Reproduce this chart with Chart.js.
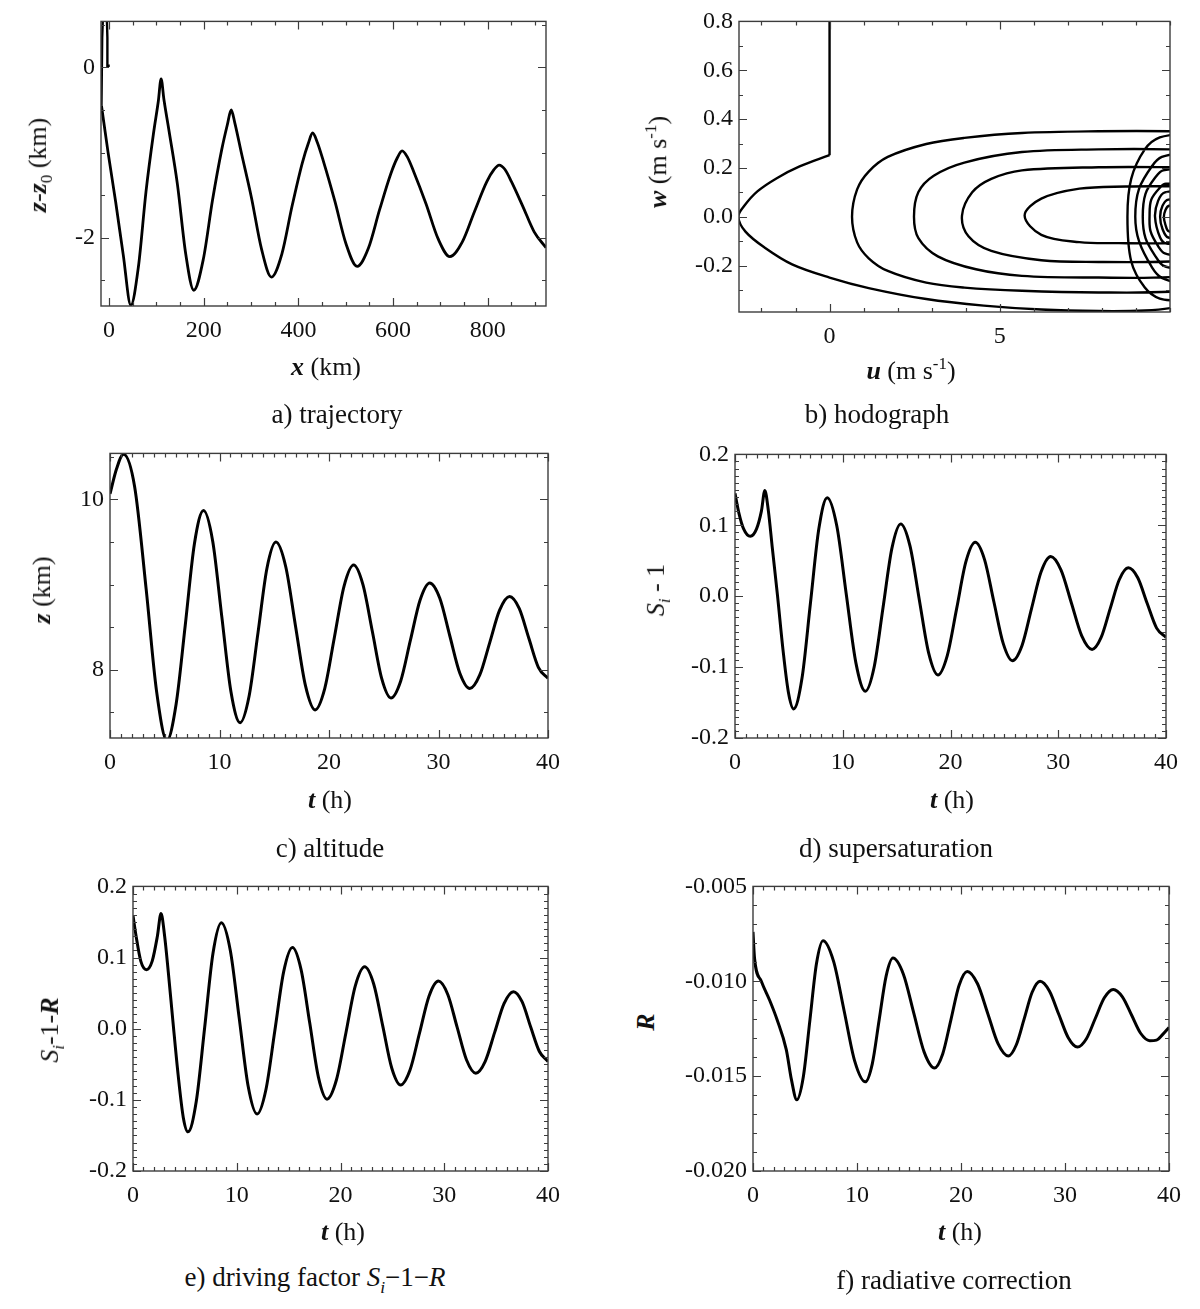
<!DOCTYPE html>
<html>
<head>
<meta charset="utf-8">
<script src="https://cdn.jsdelivr.net/npm/chart.js@4.4.1/dist/chart.umd.min.js"></script>
<style>
  body { margin: 0; background: #fff; }
  #page { position: relative; width: 1200px; height: 1309px; font-family: 'Liberation Serif', 'Times New Roman', serif; color: #111; overflow: hidden; }
  canvas { position: absolute; }
  .t { position: absolute; font-size: 26px; white-space: nowrap; transform: translate(-50%, -50%); }
  .cap { font-size: 27px; }
  .v { transform: translate(-50%, -50%) rotate(-90deg); }
  .bi { font-weight: bold; font-style: italic; }
  .i { font-style: italic; }
  sub, sup { font-size: 65%; }
</style>
</head>
<body>
<div id="page">
  <canvas id="chA"></canvas>
  <canvas id="chB"></canvas>
  <canvas id="chC"></canvas>
  <canvas id="chD"></canvas>
  <canvas id="chE"></canvas>
  <canvas id="chF"></canvas>

  <div class="t v" style="left:40px;top:165px"><span class="bi">z</span>-<span class="bi">z</span><sub>0</sub> (km)</div>
  <div class="t" style="left:326px;top:367px"><span class="bi">x</span> (km)</div>
  <div class="t cap" style="left:337px;top:414px">a) trajectory</div>

  <div class="t v" style="left:657px;top:162px"><span class="bi">w</span> (m s<sup>-1</sup>)</div>
  <div class="t" style="left:911px;top:370px"><span class="bi">u</span> (m s<sup>-1</sup>)</div>
  <div class="t cap" style="left:877px;top:414px">b) hodograph</div>

  <div class="t v" style="left:42px;top:590px"><span class="bi">z</span> (km)</div>
  <div class="t" style="left:330px;top:800px"><span class="bi">t</span> (h)</div>
  <div class="t cap" style="left:330px;top:848px">c) altitude</div>

  <div class="t v" style="left:658px;top:590px"><span class="i">S<sub>i</sub></span> - 1</div>
  <div class="t" style="left:952px;top:800px"><span class="bi">t</span> (h)</div>
  <div class="t cap" style="left:896px;top:848px">d) supersaturation</div>

  <div class="t v" style="left:52px;top:1030px"><span class="i">S<sub>i</sub></span>-1-<span class="bi">R</span></div>
  <div class="t" style="left:343px;top:1232px"><span class="bi">t</span> (h)</div>
  <div class="t cap" style="left:315px;top:1280px">e) driving factor <span class="i">S<sub>i</sub></span>−1−<span class="i">R</span></div>

  <div class="t v" style="left:646px;top:1022px"><span class="bi">R</span></div>
  <div class="t" style="left:960px;top:1232px"><span class="bi">t</span> (h)</div>
  <div class="t cap" style="left:954px;top:1280px">f) radiative correction</div>
</div>

<script>
// a) trajectory: x (km), z - z0 (km)
const trajSpikeX = [1.5, -3, -3.5, -5, -12.5, -14.5, -16];
const trajSpikeZ = [0.02, 0.02, 0.35, 0.65, 0.65, 0.35, -0.45];
const trajX = [-16, -2, 14, 30, 46, 62, 78, 94, 104, 110, 116, 127, 144.5, 162, 179,
  199, 218.5, 238, 250, 258, 266, 279, 300.5, 322, 343, 365, 386.5, 408, 421, 430,
  440, 453.5, 477, 500.5, 524, 548, 571.5, 595, 609, 619, 630, 644, 669.5, 695, 720,
  746, 772, 798, 813, 824, 836, 850, 874, 898, 923];
const trajZ = [-0.45, -1.0, -1.58, -2.2, -2.79, -2.34, -1.46, -0.77, -0.40, -0.135, -0.38, -0.755, -1.375, -2.19, -2.615,
  -2.255, -1.56, -0.965, -0.67, -0.5, -0.66, -0.99, -1.52, -2.13, -2.46, -2.19, -1.63, -1.125, -0.89, -0.77,
  -0.88, -1.114, -1.57, -2.07, -2.335, -2.12, -1.67, -1.25, -1.06, -0.98, -1.05, -1.23, -1.6, -2.01, -2.22,
  -2.05, -1.69, -1.34, -1.2, -1.146, -1.195, -1.34, -1.63, -1.93, -2.115];

// b) hodograph: u, w (m/s)
const hodoStartU = [0, 0];
const hodoStartW = [0.9, 0.252];
const hodoU = [0, -0.88, -1.55, -2.12, -2.51, -2.68, -2.47, -1.89, -1.10, 0, 1.15, 2.84, 4.53, 6.22, 7.9, 9.26, 10.05, 10.6,
  9.7, 9.26, 8.86, 8.75, 8.86, 9.26, 9.7, 10.6,
  10.05, 7.9, 5.65, 3.96, 2.84, 1.71, 1.15, 0.81, 0.66, 0.81, 1.15, 1.71, 2.84, 3.96, 5.65, 7.9, 10.05, 10.6,
  9.76, 9.48, 9.09, 8.98, 9.09, 9.48, 9.76, 10.6,
  10.05, 7.9, 5.65, 3.96, 3.06, 2.61, 2.48, 2.61, 3.18, 4.3, 5.65, 7.9, 10.05, 10.6,
  9.8, 9.59, 9.28, 9.2, 9.28, 9.59, 9.8, 10.6,
  10.05, 7.9, 5.65, 4.75, 4.19, 3.89, 4.08, 4.75, 6.22, 7.9, 10.05, 10.6,
  9.85, 9.65, 9.43, 9.4, 9.45, 9.71, 9.88, 10.6,
  10.05, 8.7, 7.34, 6.22, 5.73, 6.22, 7.34, 8.5, 10.05, 10.6,
  9.9, 9.71, 9.56, 9.65, 9.85, 10.6, 10.6,
  9.95, 9.78, 9.71, 9.78, 9.95, 10.6, 10.6,
  9.97, 9.86, 9.82, 9.86, 9.97, 10.6];
const hodoW = [0.252, 0.206, 0.158, 0.104, 0.044, 0.0, -0.061, -0.128, -0.195, -0.249, -0.292, -0.337, -0.364, -0.38, -0.386, -0.384, -0.373, -0.35,
  -0.335, -0.29, -0.182, 0, 0.155, 0.276, 0.325, 0.345,
  0.35, 0.35, 0.343, 0.323, 0.298, 0.245, 0.185, 0.112, 0, -0.105, -0.17, -0.222, -0.27, -0.29, -0.303, -0.31, -0.307, -0.29,
  -0.25, -0.209, -0.1, 0, 0.114, 0.209, 0.245, 0.27,
  0.276, 0.276, 0.265, 0.222, 0.168, 0.101, 0, -0.0875, -0.162, -0.215, -0.242, -0.249, -0.247, -0.23,
  -0.2, -0.165, -0.0875, 0, 0.094, 0.165, 0.19, 0.2,
  0.203, 0.203, 0.19, 0.155, 0.1, 0.005, -0.08, -0.14, -0.178, -0.185, -0.183, -0.17,
  -0.15, -0.12, -0.06, 0.005, 0.07, 0.12, 0.135, 0.125,
  0.125, 0.124, 0.115, 0.074, 0.005, -0.074, -0.104, -0.108, -0.108, -0.1,
  -0.11, -0.085, 0, 0.065, 0.1, 0.09, -0.08,
  -0.085, -0.05, 0, 0.045, 0.07, 0.06, -0.055,
  -0.06, -0.03, 0, 0.025, 0.045, 0.04];

// c) altitude: t (h), z (km)
const altT = [0, 0.6, 1.23, 2.25, 3.3, 4.25, 5.2, 6.04, 6.87, 7.71, 8.54, 9.38, 10.21, 11.05, 11.88,
  12.7, 13.52, 14.33, 15.15, 16.05, 16.94, 17.84, 18.73, 19.61, 20.49, 21.37, 22.25, 23.1, 23.96, 24.81, 25.66,
  26.55, 27.43, 28.32, 29.2, 30.12, 31.03, 31.95, 32.86, 33.77, 34.68, 35.58, 36.49, 37.37, 38.25, 39.12, 40];
const altZ = [10.065, 10.36, 10.53, 10.15, 8.95, 7.75, 7.17, 7.6, 8.52, 9.48, 9.87, 9.51, 8.625, 7.74, 7.38,
  7.69, 8.44, 9.19, 9.50, 9.21, 8.515, 7.82, 7.53, 7.78, 8.38, 8.98, 9.23, 9.0, 8.45, 7.90, 7.67,
  7.87, 8.345, 8.82, 9.02, 8.84, 8.40, 7.96, 7.78, 7.94, 8.32, 8.70, 8.86, 8.72, 8.37, 8.03, 7.90];

// d) supersaturation: t (h), Si - 1
const supT = [0, 0.35, 0.8, 1.42, 2.0, 2.45, 2.77, 3.1, 3.45, 3.95, 4.45, 4.95, 5.44, 6.22, 7.0, 7.78, 8.56,
  9.45, 10.33, 11.22, 12.1, 12.92, 13.74, 14.56, 15.38, 16.24, 17.1, 17.97, 18.83, 19.7, 20.57, 21.43, 22.3,
  23.16, 24.02, 24.89, 25.75, 26.64, 27.52, 28.41, 29.3, 30.26, 31.22, 32.18, 33.14, 33.98, 34.82, 35.66, 36.5,
  37.38, 38.25, 39.13, 40];
const supV = [0.145, 0.118, 0.095, 0.0845, 0.095, 0.12, 0.149, 0.12, 0.07, 0.0, -0.075, -0.135, -0.159, -0.1155, -0.01, 0.095, 0.139,
  0.099, 0.0025, -0.094, -0.134, -0.0995, -0.016, 0.0675, 0.102, 0.071, -0.0045, -0.080, -0.111, -0.0837, -0.0175, 0.0487, 0.076,
  0.0516, -0.0075, -0.0666, -0.091, -0.0695, -0.0175, 0.0345, 0.056, 0.0369, -0.0095, -0.0559, -0.075, -0.0582, -0.0175, 0.0232, 0.040,
  0.026, -0.01, -0.045, -0.058];

// e) driving factor: t (h), Si - 1 - R
const drvT = [0, 0.3, 0.75, 1.3, 1.85, 2.35, 2.7, 3.05, 3.4, 3.85, 4.35, 4.85, 5.3, 6.1, 6.91, 7.71, 8.52,
  9.38, 10.24, 11.1, 11.96, 12.81, 13.67, 14.52, 15.37, 16.2, 17.04, 17.87, 18.7, 19.61, 20.52, 21.42, 22.33,
  23.2, 24.07, 24.93, 25.8, 26.71, 27.62, 28.53, 29.44, 30.34, 31.24, 32.14, 33.04, 33.95, 34.86, 35.76, 36.67,
  37.5, 38.34, 39.17, 40];
const drvV = [0.159, 0.13, 0.095, 0.083, 0.095, 0.13, 0.162, 0.13, 0.08, 0.01, -0.065, -0.125, -0.145, -0.102, 0.002, 0.106, 0.149,
  0.11, 0.0145, -0.081, -0.12, -0.0858, -0.003, 0.0798, 0.114, 0.083, 0.0075, -0.068, -0.099, -0.0718, -0.006, 0.0598, 0.087,
  0.0628, 0.004, -0.0548, -0.079, -0.0577, -0.006, 0.0457, 0.067, 0.0481, 0.0022, -0.0436, -0.0625, -0.0458, -0.0052, 0.0353, 0.052,
  0.038, 0.002, -0.032, -0.046];

// f) radiative correction: t (h), R
const radT = [0, 0.15, 0.8, 1.6, 2.3, 3.2, 3.7, 4.21, 4.84, 5.47, 6.1, 6.73, 7.75, 8.77, 9.78, 10.8,
  11.47, 12.13, 12.8, 13.46, 14.46, 15.46, 16.45, 17.45, 18.24, 19.03, 19.81, 20.6, 21.59, 22.58, 23.56, 24.55,
  25.31, 26.08, 26.84, 27.6, 28.5, 29.4, 30.3, 31.2, 32.06, 32.92, 33.78, 34.64, 35.52, 36.4, 37.27, 38.15,
  38.8, 39.4, 40];
const radR = [-0.0074, -0.0088, -0.0100, -0.0110, -0.0120, -0.0136, -0.0152, -0.01625, -0.01503, -0.01206, -0.00908, -0.00786, -0.00895, -0.01158, -0.01421, -0.0153,
  -0.01435, -0.01204, -0.00973, -0.00878, -0.00963, -0.01168, -0.01372, -0.01457, -0.01383, -0.01203, -0.01022, -0.00948, -0.01013, -0.01171, -0.01329, -0.01394,
  -0.01336, -0.01197, -0.01058, -0.0100, -0.01051, -0.01174, -0.01296, -0.01347, -0.01303, -0.01195, -0.01087, -0.01043, -0.01082, -0.01178, -0.01274, -0.01313,
  -0.0131, -0.0128, -0.01243];

// tick labels
const trajXTicks = [0, 200, 400, 600, 800];
const trajZTicks = [-2, 0];
const hodoUTicks = [0, 5];
const hodoWTicks = [-0.2, 0, 0.2, 0.4, 0.6, 0.8];
const hourTicks = [0, 10, 20, 30, 40];
const altTicks = [8, 10];
const supTicks = [-0.2, -0.1, 0, 0.1, 0.2];
const radTicks = [-0.020, -0.015, -0.010, -0.005];

const FONT = "'Liberation Serif', 'Times New Roman', serif";

// frame + inward tick marks on all four sides
const frameTicks = {
  id: 'frameTicks',
  afterDatasetsDraw(chart, args, o) {
    const { ctx, chartArea: a } = chart;
    const sx = chart.scales.x, sy = chart.scales.y;
    const steps = (min, max, step) => {
      const out = [];
      for (let k = Math.ceil(min / step - 1e-6); k * step <= max + 1e-9; k++) out.push(k * step);
      return out;
    };
    const isMajor = (list, v, step) => list.some(m => Math.abs(m - v) < step / 10);
    ctx.save();
    ctx.strokeStyle = '#3c3c3c';
    ctx.lineWidth = 1.2;
    ctx.beginPath();
    steps(sx.min, sx.max, o.xMinor).forEach(v => {
      const len = isMajor(o.xMajor, v, o.xMinor) ? 8 : 4;
      const p = Math.round(sx.getPixelForValue(v)) + 0.5;
      ctx.moveTo(p, a.bottom); ctx.lineTo(p, a.bottom - len);
      ctx.moveTo(p, a.top); ctx.lineTo(p, a.top + len);
    });
    steps(sy.min, sy.max, o.yMinor).forEach(v => {
      const len = isMajor(o.yMajor, v, o.yMinor) ? 8 : 4;
      const p = Math.round(sy.getPixelForValue(v)) + 0.5;
      ctx.moveTo(a.left, p); ctx.lineTo(a.left + len, p);
      ctx.moveTo(a.right, p); ctx.lineTo(a.right - len, p);
    });
    ctx.stroke();
    ctx.lineWidth = 1.4;
    ctx.strokeRect(a.left, a.top, a.right - a.left, a.bottom - a.top);
    ctx.restore();
  }
};

const curve = (xs, ys, extra) => Object.assign({
  data: xs.map((x, i) => ({ x, y: ys[i] })),
  showLine: true,
  pointRadius: 0,
  borderColor: '#000',
  borderWidth: 3,
  fill: false,
  clip: 0,
  cubicInterpolationMode: 'monotone'
}, extra || {});

function panel(id, box, o) {
  const padL = 84, padR = 28, padT = 16, padB = 48;
  const cv = document.getElementById(id);
  const w = box[2] - box[0] + padL + padR;
  const h = box[3] - box[1] + padT + padB;
  cv.style.left = (box[0] - padL) + 'px';
  cv.style.top = (box[1] - padT) + 'px';
  cv.style.width = w + 'px';
  cv.style.height = h + 'px';
  cv.width = w;
  cv.height = h;
  const tickFont = { family: FONT, size: 24 };
  new Chart(cv, {
    type: 'scatter',
    data: { datasets: o.sets },
    options: {
      responsive: false,
      animation: false,
      layout: { padding: { left: 0, right: padR, top: padT, bottom: 0 }, autoPadding: false },
      elements: { line: { capBezierPoints: false } },
      plugins: {
        legend: { display: false },
        tooltip: { enabled: false },
        frameTicks: { xMajor: o.xTicks, yMajor: o.yTicks, xMinor: o.xMinor, yMinor: o.yMinor }
      },
      scales: {
        x: {
          type: 'linear', min: o.xMin, max: o.xMax,
          grid: { display: false, drawTicks: false },
          border: { display: false },
          ticks: { font: tickFont, color: '#111', padding: 10, maxRotation: 0, callback: v => o.xFmt(v) },
          afterBuildTicks: s => { s.ticks = o.xTicks.map(v => ({ value: v })); },
          afterFit: s => { s.height = padB; }
        },
        y: {
          type: 'linear', min: o.yMin, max: o.yMax,
          grid: { display: false, drawTicks: false },
          border: { display: false },
          ticks: { font: tickFont, color: '#111', padding: 6, callback: v => o.yFmt(v) },
          afterBuildTicks: s => { s.ticks = o.yTicks.map(v => ({ value: v })); },
          afterFit: s => { s.width = padL; }
        }
      }
    },
    plugins: [frameTicks]
  });
}

const intFmt = v => String(Math.round(v));
const f1 = v => v.toFixed(1);
const f3 = v => v.toFixed(3);

panel('chA', [101, 17, 546, 306], {
  xMin: -17, xMax: 923, yMin: -2.8, yMax: 0.54,
  xTicks: trajXTicks, yTicks: trajZTicks, xMinor: 50, yMinor: 0.5,
  xFmt: intFmt, yFmt: intFmt,
  sets: [
    curve(trajSpikeX, trajSpikeZ, { cubicInterpolationMode: 'default', tension: 0, borderWidth: 2.4 }),
    curve(trajX, trajZ, { borderWidth: 2.8 })
  ]
});

panel('chB', [739, 17, 1170, 312], {
  xMin: -2.66, xMax: 10.0, yMin: -0.39, yMax: 0.8,
  xTicks: hodoUTicks, yTicks: hodoWTicks, xMinor: 1, yMinor: 0.1,
  xFmt: intFmt, yFmt: f1,
  sets: [
    curve(hodoStartU, hodoStartW, { cubicInterpolationMode: 'default', tension: 0, borderWidth: 2.4 }),
    curve(hodoU, hodoW, { cubicInterpolationMode: 'default', tension: 0.35, borderWidth: 2.4 })
  ]
});

panel('chC', [110, 449, 548, 738], {
  xMin: 0, xMax: 40, yMin: 7.2, yMax: 10.54,
  xTicks: hourTicks, yTicks: altTicks, xMinor: 1, yMinor: 0.5,
  xFmt: intFmt, yFmt: intFmt,
  sets: [curve(altT, altZ)]
});

panel('chD', [735, 450, 1166, 738], {
  xMin: 0, xMax: 40, yMin: -0.2, yMax: 0.2,
  xTicks: hourTicks, yTicks: supTicks, xMinor: 1, yMinor: 0.01,
  xFmt: intFmt, yFmt: f1,
  sets: [curve(supT, supV)]
});

panel('chE', [133, 882, 548, 1171], {
  xMin: 0, xMax: 40, yMin: -0.2, yMax: 0.2,
  xTicks: hourTicks, yTicks: supTicks, xMinor: 1, yMinor: 0.01,
  xFmt: intFmt, yFmt: f1,
  sets: [curve(drvT, drvV)]
});

panel('chF', [753, 882, 1169, 1171], {
  xMin: 0, xMax: 40, yMin: -0.020, yMax: -0.005,
  xTicks: hourTicks, yTicks: radTicks, xMinor: 1, yMinor: 0.001,
  xFmt: intFmt, yFmt: f3,
  sets: [curve(radT, radR)]
});
</script>
</body>
</html>
